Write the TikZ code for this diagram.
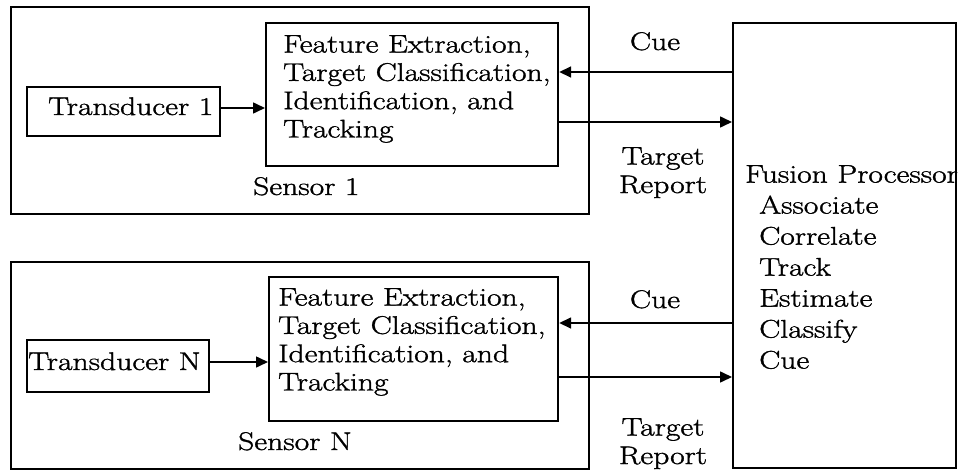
\documentclass[tikz,border=0pt]{standalone}
\usepackage{fontspec}
\setmainfont{Latin Modern Roman}[FakeStretch=1.24,FakeBold=1.3]
\usetikzlibrary{arrows.meta}
\begin{document}
\begin{tikzpicture}[x=1pt,y=-1pt,
  box/.style={draw, line width=2.2pt, inner sep=0pt, anchor=north west},
  txt/.style={font=\fontsize{25.5}{28.3}\selectfont, inner sep=0pt},
  arr/.style={line width=1.6pt, -{Triangle[length=12pt,width=11pt]}}]
\useasboundingbox (0,0) rectangle (959,471);
% Sensor 1
\node[box, minimum width=578, minimum height=207] (s1) at (10,6) {};
\node[box, minimum width=292, minimum height=143] (f1) at (265,22) {};
\node[txt, align=left, anchor=north west] (f1t) at (283,35) {Feature Extraction,\\Target Classification,\\Identification, and\\Tracking};
\node[box, minimum width=193, minimum height=49] (t1) at (26,86) {};
\node[txt, anchor=base west] (t1t) at (48,115) {Transducer 1};
\node[txt, anchor=base west] (s1l) at (253,195) {Sensor 1};
% Sensor N
\node[box, minimum width=578, minimum height=207] (sn) at (10,261) {};
\node[box, minimum width=289, minimum height=144] (fn) at (268,276) {};
\node[txt, align=left, anchor=north west] (fnt) at (278,288) {Feature Extraction,\\Target Classification,\\Identification, and\\Tracking};
\node[box, minimum width=182, minimum height=52] (tn) at (26,339) {};
\node[txt, anchor=base west] (tnt) at (28,370) {Transducer N};
\node[txt, anchor=base west] (snl) at (238,450) {Sensor N};
% Fusion
\node[txt, align=left, anchor=north west, font=\fontsize{25.5}{31}\selectfont] (fpt) at (745,165)
  {Fusion Processor\\\hspace*{14pt}Associate\\\hspace*{14pt}Correlate\\\hspace*{14pt}Track\\\hspace*{14pt}Estimate\\\hspace*{14pt}Classify\\\hspace*{14pt}Cue};
\node[box, minimum width=223, minimum height=445] (fp) at (732,22) {};
% labels
\node[txt, anchor=base] (c1) at (655,50) {Cue};
\node[txt, anchor=base] (cn) at (655,308) {Cue};
\node[txt, align=center, anchor=north, font=\fontsize{25.5}{28.5}\selectfont] (r1) at (663,147) {Target\\Report};
\node[txt, align=center, anchor=north, font=\fontsize{25.5}{28.5}\selectfont] (rn) at (663,418) {Target\\Report};
% arrows
\draw[arr] (t1.east |- 0,108) -- (f1.west |- 0,108);
\draw[arr] (tn.east |- 0,362) -- (fn.west |- 0,362);
\draw[arr] (fp.west |- 0,72) -- (f1.east |- 0,72);
\draw[arr] (f1.east |- 0,122) -- (fp.west |- 0,122);
\draw[arr] (fp.west |- 0,323) -- (fn.east |- 0,323);
\draw[arr] (fn.east |- 0,377) -- (fp.west |- 0,377);
\end{tikzpicture}
\end{document}
